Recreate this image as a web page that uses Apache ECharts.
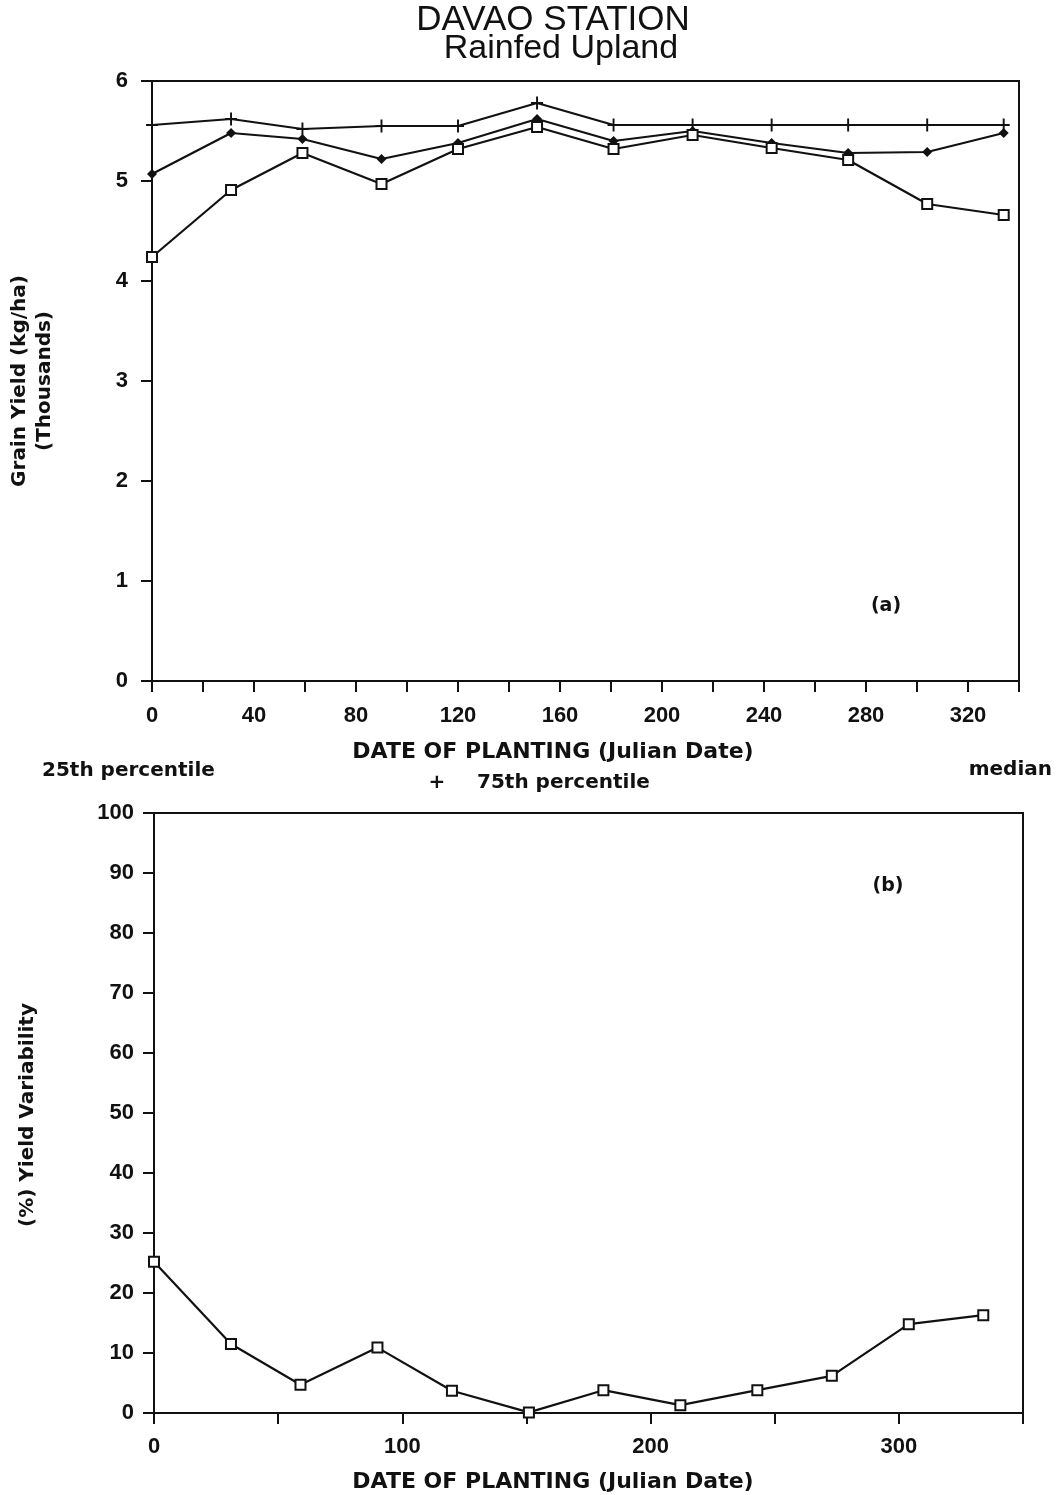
<!DOCTYPE html>
<html>
<head>
<meta charset="utf-8">
<script src="https://cdn.jsdelivr.net/npm/echarts@6/dist/echarts.min.js"></script>
<style>
html,body{margin:0;padding:0;background:#fff;}
#c{width:1060px;height:1495px;}
</style>
</head>
<body>
<div id="c"></div>
<script>
const plantDays = [0, 31, 59, 90, 120, 151, 181, 212, 243, 273, 304, 334];
const p25 = [4.24, 4.91, 5.28, 4.97, 5.32, 5.54, 5.32, 5.46, 5.33, 5.21, 4.77, 4.66];
const median = [5.07, 5.48, 5.42, 5.22, 5.38, 5.62, 5.40, 5.50, 5.38, 5.28, 5.29, 5.48];
const p75 = [5.56, 5.62, 5.52, 5.55, 5.55, 5.78, 5.56, 5.56, 5.56, 5.56, 5.56, 5.56];
const variability = [25.2, 11.5, 4.7, 10.9, 3.7, 0.1, 3.8, 1.3, 3.8, 6.2, 14.8, 16.3];
const topXLabels = [0, 40, 80, 120, 160, 200, 240, 280, 320];
const bottomXLabels = [0, 100, 200, 300];

const pair = (xs, ys) => xs.map((x, i) => [x, ys[i]]);
const TFONT = 'Liberation Sans, Arial, sans-serif';
const FONT = 'DejaVu Sans, sans-serif';
const plusPath = 'path://M-1.6,-10 L1.6,-10 L1.6,-1.6 L10,-1.6 L10,1.6 L1.6,1.6 L1.6,10 L-1.6,10 L-1.6,1.6 L-10,1.6 L-10,-1.6 L-1.6,-1.6 Z';

const chart = echarts.init(document.getElementById('c'), null, {renderer: 'canvas'});
const axisCommon = {
  axisLine: {show: true, lineStyle: {color: '#111', width: 2}},
  axisTick: {show: true, inside: false, length: 11, lineStyle: {color: '#111', width: 2}},
  splitLine: {show: false},
  axisLabel: {color: '#111', fontFamily: TFONT, fontSize: 22, fontWeight: 'bold', margin: 22}
};
const lineStyle = {color: '#111', width: 2.2};

chart.setOption({
  animation: false,
  backgroundColor: '#fff',
  grid: [
    {left: 152, right: 41, top: 81, height: 600, show: true, borderColor: '#111', borderWidth: 2, backgroundColor: 'transparent'},
    {left: 154, right: 37, top: 813, height: 600, show: true, borderColor: '#111', borderWidth: 2, backgroundColor: 'transparent'}
  ],
  xAxis: [
    Object.assign({}, axisCommon, {
      type: 'value', gridIndex: 0, min: 0, max: 340, interval: 20,
      axisLabel: Object.assign({}, axisCommon.axisLabel, {
        margin: 24,
        formatter: v => topXLabels.indexOf(v) >= 0 ? String(v) : ''
      })
    }),
    Object.assign({}, axisCommon, {
      type: 'value', gridIndex: 1, min: 0, max: 350, interval: 50,
      axisLabel: Object.assign({}, axisCommon.axisLabel, {
        margin: 23,
        formatter: v => bottomXLabels.indexOf(v) >= 0 ? String(v) : ''
      })
    })
  ],
  yAxis: [
    Object.assign({}, axisCommon, {type: 'value', gridIndex: 0, min: 0, max: 6, interval: 1,
      axisLabel: Object.assign({}, axisCommon.axisLabel, {margin: 24})}),
    Object.assign({}, axisCommon, {type: 'value', gridIndex: 1, min: 0, max: 100, interval: 10,
      axisLabel: Object.assign({}, axisCommon.axisLabel, {margin: 20})})
  ],
  series: [
    {type: 'line', xAxisIndex: 0, yAxisIndex: 0, data: pair(plantDays, p75),
     symbol: plusPath, symbolSize: [12, 13], itemStyle: {color: '#111'}, lineStyle: lineStyle},
    {type: 'line', xAxisIndex: 0, yAxisIndex: 0, data: pair(plantDays, median),
     symbol: 'diamond', symbolSize: 10, itemStyle: {color: '#111'}, lineStyle: lineStyle},
    {type: 'line', xAxisIndex: 0, yAxisIndex: 0, data: pair(plantDays, p25),
     symbol: 'rect', symbolSize: 10, itemStyle: {color: '#fff', borderColor: '#111', borderWidth: 2}, lineStyle: lineStyle},
    {type: 'line', xAxisIndex: 1, yAxisIndex: 1, data: pair(plantDays, variability),
     symbol: 'rect', symbolSize: 10, itemStyle: {color: '#fff', borderColor: '#111', borderWidth: 2}, lineStyle: lineStyle}
  ],
  graphic: [
    {type: 'text', x: 553, y: 20, style: {text: 'DAVAO STATION', font: '35px ' + TFONT, fill: '#111', align: 'center', verticalAlign: 'middle'}},
    {type: 'text', x: 561, y: 49, style: {text: 'Rainfed Upland', font: '34px ' + TFONT, fill: '#111', align: 'center', verticalAlign: 'middle'}},
    {type: 'text', x: 10, y: 381, rotation: Math.PI / 2, style: {text: 'Grain Yield (kg/ha)', font: 'bold 20px ' + FONT, fill: '#111', align: 'center', verticalAlign: 'top'}},
    {type: 'text', x: 35, y: 381, rotation: Math.PI / 2, style: {text: '(Thousands)', font: 'bold 20px ' + FONT, fill: '#111', align: 'center', verticalAlign: 'top'}},
    {type: 'text', x: 553, y: 752, style: {text: 'DATE OF PLANTING (Julian Date)', font: 'bold 22px ' + FONT, fill: '#111', align: 'center', verticalAlign: 'middle'}},
    {type: 'text', x: 42, y: 771, style: {text: '25th percentile', font: 'bold 20px ' + FONT, fill: '#111', align: 'left', verticalAlign: 'middle'}},
    {type: 'text', x: 437, y: 783, style: {text: '+', font: 'bold 20px ' + FONT, fill: '#111', align: 'center', verticalAlign: 'middle'}},
    {type: 'text', x: 477, y: 783, style: {text: '75th percentile', font: 'bold 20px ' + FONT, fill: '#111', align: 'left', verticalAlign: 'middle'}},
    {type: 'text', x: 1052, y: 770, style: {text: 'median', font: 'bold 20px ' + FONT, fill: '#111', align: 'right', verticalAlign: 'middle'}},
    {type: 'text', x: 886, y: 606, style: {text: '(a)', font: 'bold 19px ' + FONT, fill: '#111', align: 'center', verticalAlign: 'middle'}},
    {type: 'text', x: 888, y: 886, style: {text: '(b)', font: 'bold 19px ' + FONT, fill: '#111', align: 'center', verticalAlign: 'middle'}},
    {type: 'text', x: 18, y: 1115, rotation: Math.PI / 2, style: {text: '(%) Yield Variability', font: 'bold 20px ' + FONT, fill: '#111', align: 'center', verticalAlign: 'top'}},
    {type: 'text', x: 553, y: 1482, style: {text: 'DATE OF PLANTING (Julian Date)', font: 'bold 22px ' + FONT, fill: '#111', align: 'center', verticalAlign: 'middle'}}
  ]
});
</script>
</body>
</html>
